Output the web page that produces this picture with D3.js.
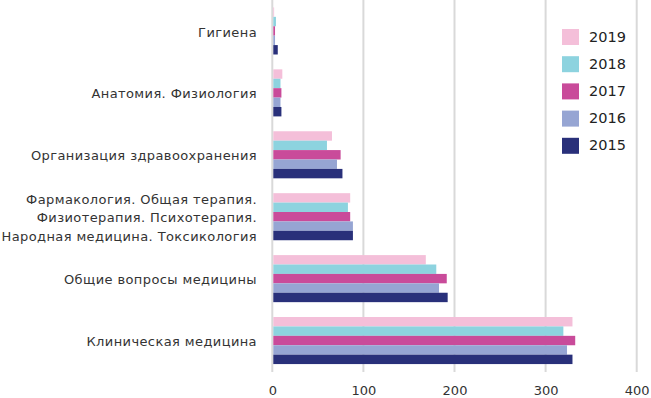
<!DOCTYPE html>
<html><head><meta charset="utf-8">
<script src="https://cdn.jsdelivr.net/npm/d3@7"></script>
<style>body{margin:0;background:#fff;}svg{display:block;font-family:"DejaVu Sans",sans-serif;}</style>
</head><body><svg id="c" width="651" height="398"></svg>
<script>
const categories = [
  ["Гигиена"],
  ["Анатомия. Физиология"],
  ["Организация здравоохранения"],
  ["Фармакология. Общая терапия.", "Физиотерапия. Психотерапия.", "Народная медицина. Токсикология"],
  ["Общие вопросы медицины"],
  ["Клиническая медицина"]
];
const years = ["2019", "2018", "2017", "2016", "2015"];
const colors = ["#f4bfd9", "#8dd3df", "#c94b9a", "#96a5d3", "#29307a"];
const v2019 = [2, 11, 65.5, 85.5, 168.5, 329.5];
const v2018 = [4, 9, 60, 83, 180, 319.5];
const v2017 = [3, 10, 75, 85.5, 191.5, 332.5];
const v2016 = [3, 9, 71, 88.5, 183, 323.5];
const v2015 = [6, 10, 77, 88.5, 192.5, 329.5];
const series = [v2019, v2018, v2017, v2016, v2015];
const ticks = [0, 100, 200, 300, 400];

const FONT = '"DejaVu Sans",sans-serif';
const svg = d3.select("#c");
const x = d3.scaleLinear().domain([0, 400]).range([272.3, 636.7]);
const y0 = d3.scaleBand().domain(d3.range(categories.length)).range([0, 371.5]).paddingInner(0.24).paddingOuter(0.12);
const y1 = d3.scaleBand().domain(d3.range(years.length)).range([0, y0.bandwidth()]);

// grid
svg.append("g").selectAll("line").data(ticks).join("line")
  .attr("x1", d => x(d)).attr("x2", d => x(d))
  .attr("y1", 0).attr("y2", 372)
  .attr("stroke", "#d9d9d9").attr("stroke-width", 2);

// bars
const g = svg.append("g");
categories.forEach((c, i) => {
  series.forEach((s, j) => {
    g.append("rect")
      .attr("x", x(0) + 1)
      .attr("y", y0(i) + y1(j))
      .attr("width", Math.max(0, x(s[i]) - x(0) - 1))
      .attr("height", y1.bandwidth())
      .attr("fill", colors[j]);
  });
});

// category labels
categories.forEach((c, i) => {
  const cy = y0(i) + y0.bandwidth() / 2 + 1;
  const lh = 18.5;
  const t = svg.append("text").attr("text-anchor", "end").attr("font-size", 13)
    .attr("letter-spacing", "0.4px").attr("fill", "#333");
  c.forEach((line, k) => {
    t.append("tspan").attr("x", 257)
      .attr("y", cy + (k - (c.length - 1) / 2) * lh)
      .attr("dy", "0.35em").text(line);
  });
});

// x axis labels
const xa = svg.append("g").attr("transform", "translate(0,372)")
  .call(d3.axisBottom(x).tickValues(ticks).tickSize(0).tickPadding(14));
xa.select(".domain").remove();
xa.selectAll("text").attr("font-size", 13).attr("fill", "#333").attr("font-family", FONT);

// legend
const lg = svg.append("g");
years.forEach((yr, j) => {
  const ly = 29 + j * 27.2;
  lg.append("rect").attr("x", 562).attr("y", ly).attr("width", 17).attr("height", 16).attr("fill", colors[j]);
  lg.append("text").attr("x", 589).attr("y", ly + 7.5).attr("dy", "0.35em")
    .attr("font-size", 14.5).attr("fill", "#222").text(yr);
});
</script></body></html>
